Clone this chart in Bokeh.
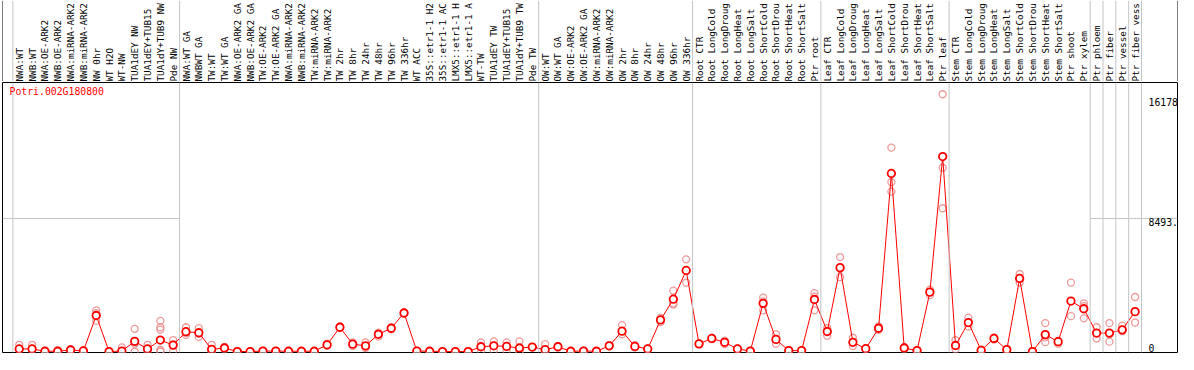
import math
from bokeh.plotting import figure
from bokeh.models import ColumnDataSource, Range1d, Span, Label
from bokeh.layouts import column
from bokeh.embed import file_html
from bokeh.resources import INLINE
from bokeh.core.properties import value

gene = "Potri.002G180800"

# sample labels as printed in the chart header (truncated there to 14 characters)
samples = [
    "NWA:WT", "NWB:WT", "NWA:OE-ARK2", "NWB:OE-ARK2", "NWA:miRNA-ARK2", "NWB:miRNA-ARK2",
    "NW 0hr", "WT H2O", "WT-NW", "TUA1dEY NW", "TUA1dEY+TUB15", "TUA1dY+TUB9 NW", "Pde NW",
    "NWA:WT GA", "NWBWT GA", "TW:WT", "TW:WT GA", "NWA:OE-ARK2 GA", "NWB:OE-ARK2 GA",
    "TW:OE-ARK2", "TW:OE-ARK2 GA", "NWA:miRNA-ARK2", "NWB:miRNA-ARK2", "TW:miRNA-ARK2",
    "TW:miRNA-ARK2", "TW 2hr", "TW 8hr", "TW 24hr", "TW 48hr", "TW 96hr", "TW 336hr",
    "WT ACC", "35S::etr1-1 H2", "35S::etr1-1 AC", "LMX5::etr1-1 H", "LMX5::etr1-1 A",
    "WT-TW", "TUA1dEY TW", "TUA1dEY+TUB15", "TUA1dY+TUB9 TW", "Pde TW",
    "OW:WT", "OW:WT GA", "OW:OE-ARK2", "OW:OE-ARK2 GA", "OW:miRNA-ARK2", "OW:miRNA-ARK2",
    "OW 2hr", "OW 8hr", "OW 24hr", "OW 48hr", "OW 96hr", "OW 336hr",
    "Root CTR", "Root LongCold", "Root LongDroug", "Root LongHeat", "Root LongSalt",
    "Root ShortCold", "Root ShortDrou", "Root ShortHeat", "Root ShortSalt", "Ptr root",
    "Leaf CTR", "Leaf LongCold", "Leaf LongDroug", "Leaf LongHeat", "Leaf LongSalt",
    "Leaf ShortCold", "Leaf ShortDrou", "Leaf ShortHeat", "Leaf ShortSalt", "Ptr leaf",
    "Stem CTR", "Stem LongCold", "Stem LongDroug", "Stem LongHeat", "Stem LongSalt",
    "Stem ShortCold", "Stem ShortDrou", "Stem ShortHeat", "Stem ShortSalt", "Ptr shoot",
    "Ptr xylem", "Ptr phloem", "Ptr fiber", "Ptr vessel", "Ptr fiber vess",
]

group_sizes = [13, 28, 12, 10, 10, 11, 1, 1, 1, 1]

means = [
    165, 165, 20, 20, 100, 40, 2300, 0, 30, 650, 165, 733, 410,
    1265, 1200, 140, 225, 0, 0, 30, 30, 20, 20, 20, 430, 1550, 470, 365, 1100, 1485, 2460,
    30, 20, 0, 0, 0, 305, 365, 325, 225, 285,
    120, 305, 20, 30, 20, 365, 1300, 325, 165, 2015, 3340, 5175,
    490, 835, 590, 165, 30, 3075, 775, 60, 60, 3320,
    1280, 5355, 590, 180, 1485, 11365, 225, 60, 3790, 12445,
    385, 1850, 80, 835, 120, 4665, 0, 1080, 630, 3220,
    2730, 1180, 1180, 1385, 2545,
]

replicates = [
    [430, 165, 120], [430, 165, 100], [60, 20, 0], [80, 20, 0], [150, 100, 60], [80, 40, 20],
    [2630, 2450, 1955], [0, 0, 0], [265, 20, 0], [1450, 500, 0], [430, 120, 0],
    [1955, 1550, 1405, 100, 0, 0], [733, 450, 40],
    [1550, 1200, 1060], [1490, 1150, 935], [430, 0, 0], [300, 225, 150], [10, 0, 0], [0, 0, 0],
    [60, 30, 0], [60, 30, 0], [40, 20, 0], [40, 20, 0], [40, 20, 0], [500, 430, 360],
    [1600, 1550, 1500], [580, 470, 360], [580, 300, 220], [1200, 1100, 950], [1550, 1485, 1420],
    [2500, 2460, 2420],
    [40, 30, 20], [40, 20, 0], [0, 0, 0], [0, 0, 0], [0, 0, 0], [580, 300, 30], [650, 380, 60],
    [580, 350, 40], [650, 20, 0], [300, 285, 270],
    [470, 0, 0], [350, 305, 260], [40, 20, 0], [60, 30, 0], [40, 20, 0], [400, 365, 330],
    [1690, 1300, 1100], [400, 325, 250], [200, 165, 130], [2150, 2015, 1880], [3890, 3075, 3000],
    [5885, 5175, 4400],
    [520, 490, 460], [870, 835, 800], [700, 590, 480], [200, 165, 130], [60, 30, 0],
    [3440, 3200, 2630], [1100, 775, 500], [90, 60, 30], [90, 60, 30], [3730, 3500, 2630],
    [1500, 1280, 1000], [6030, 5300, 4745], [880, 590, 350], [220, 180, 140], [1600, 1485, 1380],
    [13015, 10815, 10205], [300, 225, 150], [90, 60, 30], [3950, 3790, 3600],
    [16420, 11730, 9145],
    [733, 385, 150], [2160, 1850, 1600], [120, 80, 40], [900, 835, 770], [160, 120, 80],
    [4950, 4665, 4400], [20, 0, 0], [1815, 900, 600], [700, 630, 500], [4400, 3220, 2260],
    [3075, 2900, 2120], [1550, 1180, 835], [1815, 1100, 630], [1650, 1385, 1300],
    [3480, 2545, 1850],
]

tick_values = [0, 8493, 16178]
tick_labels = ["0", "8493.", "16178"]

# ---------------------------------------------------------------- layout
W = 1178
HDR_H = 81
MAIN_H = 273
GRAY = "#c4c4c4"
MONO = "DejaVu Sans Mono"

# reference-pixel geometry: column i centred at 19 + 13*i, frame from x=2 to x=1193
xr = Range1d((2 - 19) / 13, (1193 - 19) / 13)
k = 139 / 8493  # px per unit in reference
yr = Range1d((367 - 368) / k, (367 - 86) / k)

idx = list(range(len(samples)))
seps = []
acc = 0
for g in group_sizes:
    seps.append(acc - 0.5)
    acc += g
seps.append(acc - 0.5)

# ---------------------------------------------------------------- header
hdr = figure(width=W, height=HDR_H, x_range=xr, y_range=Range1d(0, 1),
             toolbar_location=None, output_backend="svg",
             x_axis_location=None, y_axis_location=None,
             min_border_left=2, min_border_right=1, min_border_top=0, min_border_bottom=0,
             outline_line_color=None, background_fill_color="white", border_fill_color="white")
hdr.grid.visible = False
for s in seps:
    hdr.add_layout(Span(location=s, dimension="height", line_color=GRAY, line_width=1))
hdr.add_layout(Span(location=xr.start, dimension="height", line_color="black", line_width=1))
hdr.add_layout(Span(location=xr.end, dimension="height", line_color="black", line_width=1))

lab_src = ColumnDataSource(dict(x=idx, y=[0] * len(idx), t=samples))
hdr.text(x="x", y="y", text="t", source=lab_src, angle=math.pi / 2,
         text_align="left", text_baseline="middle", text_color="black",
         text_font=value(MONO), text_font_size="9.3px")

# ---------------------------------------------------------------- main plot
p = figure(width=W, height=MAIN_H, x_range=xr, y_range=yr,
           toolbar_location=None, output_backend="svg",
           x_axis_location=None, y_axis_location=None,
           min_border_left=2, min_border_right=1, min_border_top=1, min_border_bottom=2,
           outline_line_color="black", outline_line_width=1,
           background_fill_color="white", border_fill_color="white")
p.grid.visible = False

for s in seps:
    p.add_layout(Span(location=s, dimension="height", line_color=GRAY, line_width=1))

# horizontal guide at the middle tick (visible on the outer sections)
p.segment(x0=[xr.start, seps[6]], x1=[seps[1], xr.end],
          y0=[tick_values[1]] * 2, y1=[tick_values[1]] * 2,
          line_color=GRAY, line_width=1)

rep_x, rep_y = [], []
for i, r in enumerate(replicates):
    for v in r:
        rep_x.append(i)
        rep_y.append(v)
p.scatter(rep_x, rep_y, marker="circle", size=7, fill_color=None,
          line_color="#ef9a9a", line_width=1.3)

p.line(idx, means, line_color="#ff0000", line_width=1)
p.scatter(idx, means, marker="circle", size=7.5, fill_color="white",
          line_color="#ff0000", line_width=1.8)

p.add_layout(Label(x=7, y=267, x_units="screen", y_units="screen", text=gene,
                   text_color="#ff0000", text_font=MONO, text_font_size="9.8px",
                   text_baseline="top", text_align="left"))

for v, t in zip(tick_values, tick_labels):
    p.add_layout(Label(x=1146, y=v, x_units="screen", y_units="data", text=t,
                       text_color="black", text_font=MONO, text_font_size="9.8px",
                       text_baseline="bottom" if v == 0 else "top",
                       text_align="left"))

layout = column(hdr, p, spacing=0)
open("out.html", "w").write(file_html(layout, INLINE))
